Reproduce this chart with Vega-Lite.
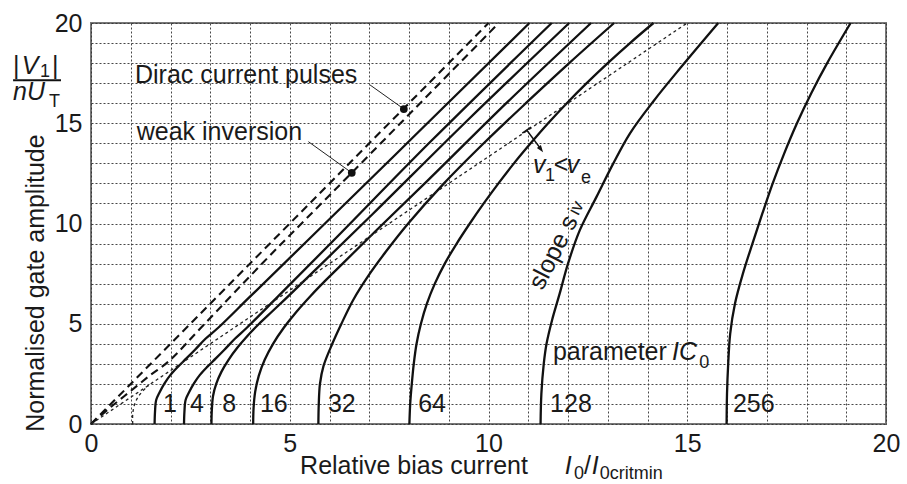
{
  "$schema": "https://vega.github.io/schema/vega-lite/v6.json",
  "width": 795,
  "height": 401,
  "autosize": {"type": "none"},
  "padding": {"left": 91, "top": 23, "right": 21, "bottom": 60},
  "background": "white",
  "config": {
    "font": "Liberation Sans",
    "view": {"stroke": "#777", "strokeWidth": 2},
    "axis": {
      "domain": false,
      "ticks": false,
      "tickSize": 0,
      "labelFontSize": 25,
      "labelColor": "#1a1a1a",
      "labelFlush": false,
      "labelPadding": 7,
      "grid": true,
      "gridColor": "#333",
      "gridDash": [2, 2],
      "gridWidth": 1,
      "gridOpacity": 0.9
    }
  },
  "datasets": {
    "solid": [
      {"s": "1", "i": 0, "x": 1.60, "y": 0}, {"s": "1", "i": 1, "x": 1.61, "y": 0.6}, {"s": "1", "i": 2, "x": 1.64, "y": 1.2}, {"s": "1", "i": 3, "x": 1.73, "y": 1.6}, {"s": "1", "i": 4, "x": 1.85, "y": 2.03}, {"s": "1", "i": 5, "x": 2.0, "y": 2.45}, {"s": "1", "i": 6, "x": 2.19, "y": 2.86}, {"s": "1", "i": 7, "x": 2.4, "y": 3.27}, {"s": "1", "i": 8, "x": 2.61, "y": 3.69}, {"s": "1", "i": 9, "x": 2.88, "y": 4.25}, {"s": "1", "i": 10, "x": 3.2, "y": 4.8}, {"s": "1", "i": 11, "x": 4.0, "y": 6.35}, {"s": "1", "i": 12, "x": 5.5, "y": 9.25}, {"s": "1", "i": 13, "x": 8.0, "y": 14.1}, {"s": "1", "i": 14, "x": 11.03, "y": 20},
      {"s": "4", "i": 0, "x": 2.34, "y": 0}, {"s": "4", "i": 1, "x": 2.35, "y": 0.6}, {"s": "4", "i": 2, "x": 2.38, "y": 1.2}, {"s": "4", "i": 3, "x": 2.47, "y": 1.6}, {"s": "4", "i": 4, "x": 2.59, "y": 2.03}, {"s": "4", "i": 5, "x": 2.74, "y": 2.45}, {"s": "4", "i": 6, "x": 2.93, "y": 2.86}, {"s": "4", "i": 7, "x": 3.14, "y": 3.27}, {"s": "4", "i": 8, "x": 3.35, "y": 3.69}, {"s": "4", "i": 9, "x": 3.62, "y": 4.25}, {"s": "4", "i": 10, "x": 3.92, "y": 4.8}, {"s": "4", "i": 11, "x": 4.7, "y": 6.35}, {"s": "4", "i": 12, "x": 6.15, "y": 9.25}, {"s": "4", "i": 13, "x": 8.55, "y": 14.1}, {"s": "4", "i": 14, "x": 11.59, "y": 20},
      {"s": "8", "i": 0, "x": 3.03, "y": 0}, {"s": "8", "i": 1, "x": 3.04, "y": 0.7}, {"s": "8", "i": 2, "x": 3.07, "y": 1.4}, {"s": "8", "i": 3, "x": 3.15, "y": 2.0}, {"s": "8", "i": 4, "x": 3.28, "y": 2.6}, {"s": "8", "i": 5, "x": 3.46, "y": 3.2}, {"s": "8", "i": 6, "x": 3.68, "y": 3.8}, {"s": "8", "i": 7, "x": 3.94, "y": 4.4}, {"s": "8", "i": 8, "x": 4.23, "y": 5.0}, {"s": "8", "i": 9, "x": 4.55, "y": 5.6}, {"s": "8", "i": 10, "x": 4.9, "y": 6.25}, {"s": "8", "i": 11, "x": 5.65, "y": 7.7}, {"s": "8", "i": 12, "x": 7.1, "y": 10.5}, {"s": "8", "i": 13, "x": 9.5, "y": 15.2}, {"s": "8", "i": 14, "x": 12.03, "y": 20},
      {"s": "16", "i": 0, "x": 4.08, "y": 0}, {"s": "16", "i": 1, "x": 4.09, "y": 0.8}, {"s": "16", "i": 2, "x": 4.13, "y": 1.6}, {"s": "16", "i": 3, "x": 4.22, "y": 2.4}, {"s": "16", "i": 4, "x": 4.37, "y": 3.2}, {"s": "16", "i": 5, "x": 4.58, "y": 4.0}, {"s": "16", "i": 6, "x": 4.85, "y": 4.8}, {"s": "16", "i": 7, "x": 5.17, "y": 5.6}, {"s": "16", "i": 8, "x": 5.53, "y": 6.4}, {"s": "16", "i": 9, "x": 5.92, "y": 7.2}, {"s": "16", "i": 10, "x": 6.33, "y": 8.0}, {"s": "16", "i": 11, "x": 7.2, "y": 9.7}, {"s": "16", "i": 12, "x": 8.5, "y": 12.2}, {"s": "16", "i": 13, "x": 10.5, "y": 16.1}, {"s": "16", "i": 14, "x": 12.58, "y": 20},
      {"s": "32", "i": 0, "x": 5.72, "y": 0}, {"s": "32", "i": 1, "x": 5.73, "y": 1.0}, {"s": "32", "i": 2, "x": 5.76, "y": 2.0}, {"s": "32", "i": 3, "x": 5.85, "y": 2.9}, {"s": "32", "i": 4, "x": 6.07, "y": 4.0}, {"s": "32", "i": 5, "x": 6.3, "y": 5.0}, {"s": "32", "i": 6, "x": 6.6, "y": 6.2}, {"s": "32", "i": 7, "x": 6.98, "y": 7.4}, {"s": "32", "i": 8, "x": 7.42, "y": 8.6}, {"s": "32", "i": 9, "x": 7.98, "y": 10.0}, {"s": "32", "i": 10, "x": 8.88, "y": 12.0}, {"s": "32", "i": 11, "x": 9.88, "y": 14.0}, {"s": "32", "i": 12, "x": 10.94, "y": 16.0}, {"s": "32", "i": 13, "x": 12.03, "y": 18.0}, {"s": "32", "i": 14, "x": 13.16, "y": 20},
      {"s": "64", "i": 0, "x": 8.01, "y": 0}, {"s": "64", "i": 1, "x": 8.03, "y": 1}, {"s": "64", "i": 2, "x": 8.07, "y": 2}, {"s": "64", "i": 3, "x": 8.12, "y": 3}, {"s": "64", "i": 4, "x": 8.19, "y": 4}, {"s": "64", "i": 5, "x": 8.3, "y": 5}, {"s": "64", "i": 6, "x": 8.45, "y": 6}, {"s": "64", "i": 7, "x": 8.65, "y": 7}, {"s": "64", "i": 8, "x": 8.9, "y": 8}, {"s": "64", "i": 9, "x": 9.2, "y": 9}, {"s": "64", "i": 10, "x": 9.53, "y": 10}, {"s": "64", "i": 11, "x": 9.88, "y": 11}, {"s": "64", "i": 12, "x": 10.25, "y": 12}, {"s": "64", "i": 13, "x": 10.64, "y": 13}, {"s": "64", "i": 14, "x": 11.06, "y": 14}, {"s": "64", "i": 15, "x": 11.5, "y": 15}, {"s": "64", "i": 16, "x": 11.97, "y": 16}, {"s": "64", "i": 17, "x": 12.47, "y": 17}, {"s": "64", "i": 18, "x": 13.0, "y": 18}, {"s": "64", "i": 19, "x": 13.56, "y": 19}, {"s": "64", "i": 20, "x": 14.15, "y": 20},
      {"s": "128", "i": 0, "x": 11.31, "y": 0}, {"s": "128", "i": 1, "x": 11.33, "y": 1.5}, {"s": "128", "i": 2, "x": 11.39, "y": 3.0}, {"s": "128", "i": 3, "x": 11.46, "y": 4.0}, {"s": "128", "i": 4, "x": 11.6, "y": 5.19}, {"s": "128", "i": 5, "x": 11.79, "y": 6.5}, {"s": "128", "i": 6, "x": 12.0, "y": 8.0}, {"s": "128", "i": 7, "x": 12.3, "y": 9.68}, {"s": "128", "i": 8, "x": 12.72, "y": 11.34}, {"s": "128", "i": 9, "x": 13.14, "y": 13.0}, {"s": "128", "i": 10, "x": 13.56, "y": 14.5}, {"s": "128", "i": 11, "x": 14.15, "y": 16.1}, {"s": "128", "i": 12, "x": 14.82, "y": 17.74}, {"s": "128", "i": 13, "x": 15.78, "y": 20},
      {"s": "256", "i": 0, "x": 15.99, "y": 0}, {"s": "256", "i": 1, "x": 16.0, "y": 1.5}, {"s": "256", "i": 2, "x": 16.03, "y": 3.0}, {"s": "256", "i": 3, "x": 16.08, "y": 4.5}, {"s": "256", "i": 4, "x": 16.2, "y": 6.0}, {"s": "256", "i": 5, "x": 16.4, "y": 7.5}, {"s": "256", "i": 6, "x": 16.64, "y": 9.0}, {"s": "256", "i": 7, "x": 16.89, "y": 10.5}, {"s": "256", "i": 8, "x": 17.15, "y": 12.0}, {"s": "256", "i": 9, "x": 17.44, "y": 13.5}, {"s": "256", "i": 10, "x": 17.76, "y": 15.0}, {"s": "256", "i": 11, "x": 18.12, "y": 16.5}, {"s": "256", "i": 12, "x": 18.52, "y": 18.0}, {"s": "256", "i": 13, "x": 19.11, "y": 20}
    ],
    "dashed": [
      {"s": "dirac", "i": 0, "x": 0, "y": 0}, {"s": "dirac", "i": 1, "x": 10.0, "y": 20},
      {"s": "weak", "i": 0, "x": 0, "y": 0}, {"s": "weak", "i": 1, "x": 0.5, "y": 0.85}, {"s": "weak", "i": 2, "x": 1.0, "y": 1.65}, {"s": "weak", "i": 3, "x": 1.5, "y": 2.45}, {"s": "weak", "i": 4, "x": 1.94, "y": 3.1}, {"s": "weak", "i": 5, "x": 2.87, "y": 5.02}, {"s": "weak", "i": 6, "x": 4.5, "y": 8.4}, {"s": "weak", "i": 7, "x": 6.56, "y": 12.53}, {"s": "weak", "i": 8, "x": 10.26, "y": 20}
    ],
    "dotted": [
      {"s": "main", "i": 0, "x": 0, "y": 0}, {"s": "main", "i": 1, "x": 15.0, "y": 20},
      {"s": "branch", "i": 0, "x": 1.05, "y": 0}, {"s": "branch", "i": 1, "x": 1.05, "y": 0.5}, {"s": "branch", "i": 2, "x": 1.1, "y": 1.0}, {"s": "branch", "i": 3, "x": 1.22, "y": 1.45}, {"s": "branch", "i": 4, "x": 1.45, "y": 1.93}
    ],
    "leaders": [
      {"x": 7.02, "y": 16.91, "x2": 7.87, "y2": 15.71},
      {"x": 5.47, "y": 14.08, "x2": 6.56, "y2": 12.53}
    ],
    "dots": [{"x": 7.87, "y": 15.71}, {"x": 6.56, "y": 12.53}],
    "fracbar": [{"x": -1.96, "y": 17.15, "x2": -0.755, "y2": 17.15}],
    "arrow": [{"x": 10.96, "y": 14.66, "x2": 11.3, "y2": 13.76}, {"x": 10.85, "y": 14.51, "x2": 11.07, "y2": 14.81}],
    "arrowhead": [{"x": 11.32, "y": 13.70}],
    "txtNormal": [
      {"x": 1.107, "y": 16.99, "t": "Dirac current pulses"},
      {"x": 1.15, "y": 14.16, "t": "weak inversion"},
      {"x": 11.62, "y": 3.19, "t": "parameter"},
      {"x": 5.26, "y": -2.49, "t": "Relative bias current"},
      {"x": 12.40, "y": -2.49, "t": "/"},
      {"x": 1.81, "y": 0.62, "t": "1"},
      {"x": 2.49, "y": 0.62, "t": "4"},
      {"x": 3.30, "y": 0.62, "t": "8"},
      {"x": 4.25, "y": 0.62, "t": "16"},
      {"x": 5.96, "y": 0.62, "t": "32"},
      {"x": 8.23, "y": 0.62, "t": "64"},
      {"x": 11.55, "y": 0.62, "t": "128"},
      {"x": 16.15, "y": 0.62, "t": "256"},
      {"x": -1.96, "y": 17.45, "t": "|"},
      {"x": -0.981, "y": 17.45, "t": "|"},
      {"x": 11.64, "y": 12.52, "t": "<"}
    ],
    "txtItalic": [
      {"x": -1.743, "y": 17.45, "t": "V"},
      {"x": -1.962, "y": 16.16, "t": "nU"},
      {"x": 11.12, "y": 12.52, "t": "v"},
      {"x": 11.97, "y": 12.52, "t": "v"},
      {"x": 14.615, "y": 3.19, "t": "IC"},
      {"x": 11.92, "y": -2.49, "t": "I"},
      {"x": 12.60, "y": -2.49, "t": "I"}
    ],
    "txtSub": [
      {"x": -1.283, "y": 17.33, "t": "1"},
      {"x": -1.057, "y": 15.83, "t": "T"},
      {"x": 11.42, "y": 12.12, "t": "1"},
      {"x": 12.33, "y": 12.04, "t": "e"},
      {"x": 15.30, "y": 2.78, "t": "0"},
      {"x": 12.15, "y": -2.74, "t": "0"},
      {"x": 12.80, "y": -2.74, "t": "0critmin"}
    ],
    "txtSlope": [{"x": 11.63, "y": 8.56, "t": "slope s"}],
    "txtSlopeSub": [{"x": 12.22, "y": 10.76, "t": "iv"}],
    "txtYTitle": [{"x": -1.384, "y": 7.03, "t": "Normalised gate amplitude"}]
  },
  "encoding": {
    "x": {"field": "x", "type": "quantitative", "scale": {"domain": [0, 20], "nice": false, "zero": false},
          "axis": {"title": null, "values": [0,1,2,3,4,5,6,7,8,9,10,11,12,13,14,15,16,17,18,19,20], "labelExpr": "datum.value % 5 === 0 ? datum.label : ''"}},
    "y": {"field": "y", "type": "quantitative", "scale": {"domain": [0, 20], "nice": false, "zero": false},
          "axis": {"title": null, "labelPadding": 9, "values": [0,1,2,3,4,5,6,7,8,9,10,11,12,13,14,15,16,17,18,19,20], "labelExpr": "datum.value % 5 === 0 ? datum.label : ''"}}
  },
  "layer": [
    {
      "data": {"name": "solid"},
      "mark": {"type": "line", "interpolate": "catmull-rom", "stroke": "#111", "strokeWidth": 2.3},
      "encoding": {
        "detail": {"field": "s", "type": "nominal"},
        "order": {"field": "i", "type": "quantitative"}
      }
    },
    {
      "data": {"name": "dashed"},
      "mark": {"type": "line", "interpolate": "catmull-rom", "stroke": "#111", "strokeWidth": 2.1, "strokeDash": [8, 5]},
      "encoding": {
        "detail": {"field": "s", "type": "nominal"},
        "order": {"field": "i", "type": "quantitative"}
      }
    },
    {
      "data": {"name": "dotted"},
      "mark": {"type": "line", "interpolate": "catmull-rom", "stroke": "#222", "strokeWidth": 1.3, "strokeDash": [3, 3]},
      "encoding": {
        "detail": {"field": "s", "type": "nominal"},
        "order": {"field": "i", "type": "quantitative"}
      }
    },
    {
      "data": {"name": "leaders"},
      "mark": {"type": "rule", "stroke": "#222", "strokeWidth": 1},
      "encoding": {"x2": {"field": "x2"}, "y2": {"field": "y2"}}
    },
    {
      "data": {"name": "fracbar"},
      "mark": {"type": "rule", "stroke": "#111", "strokeWidth": 2},
      "encoding": {"x2": {"field": "x2"}, "y2": {"field": "y2"}}
    },
    {
      "data": {"name": "arrow"},
      "mark": {"type": "rule", "stroke": "#111", "strokeWidth": 1.5},
      "encoding": {"x2": {"field": "x2"}, "y2": {"field": "y2"}}
    },
    {
      "data": {"name": "arrowhead"},
      "mark": {"type": "point", "shape": "M-0.35,-0.5L0.35,-0.5L0,0.5Z", "size": 200, "angle": 324, "filled": true, "fill": "#111", "opacity": 1}
    },
    {
      "data": {"name": "dots"},
      "mark": {"type": "point", "shape": "circle", "size": 60, "filled": true, "fill": "#111", "opacity": 1}
    },
    {
      "data": {"name": "txtNormal"},
      "mark": {"type": "text", "fontSize": 25, "align": "left", "baseline": "alphabetic", "fill": "#1a1a1a"},
      "encoding": {"text": {"field": "t"}}
    },
    {
      "data": {"name": "txtItalic"},
      "mark": {"type": "text", "fontSize": 25, "fontStyle": "italic", "align": "left", "baseline": "alphabetic", "fill": "#1a1a1a"},
      "encoding": {"text": {"field": "t"}}
    },
    {
      "data": {"name": "txtSub"},
      "mark": {"type": "text", "fontSize": 18, "align": "left", "baseline": "alphabetic", "fill": "#1a1a1a"},
      "encoding": {"text": {"field": "t"}}
    },
    {
      "data": {"name": "txtSlope"},
      "mark": {"type": "text", "fontSize": 25, "align": "center", "baseline": "middle", "angle": 297, "fill": "#1a1a1a"},
      "encoding": {"text": {"field": "t"}}
    },
    {
      "data": {"name": "txtSlopeSub"},
      "mark": {"type": "text", "fontSize": 18, "align": "center", "baseline": "middle", "angle": 297, "fill": "#1a1a1a"},
      "encoding": {"text": {"field": "t"}}
    },
    {
      "data": {"name": "txtYTitle"},
      "mark": {"type": "text", "fontSize": 25, "align": "center", "baseline": "middle", "angle": 270, "fill": "#1a1a1a"},
      "encoding": {"text": {"field": "t"}}
    }
  ]
}
